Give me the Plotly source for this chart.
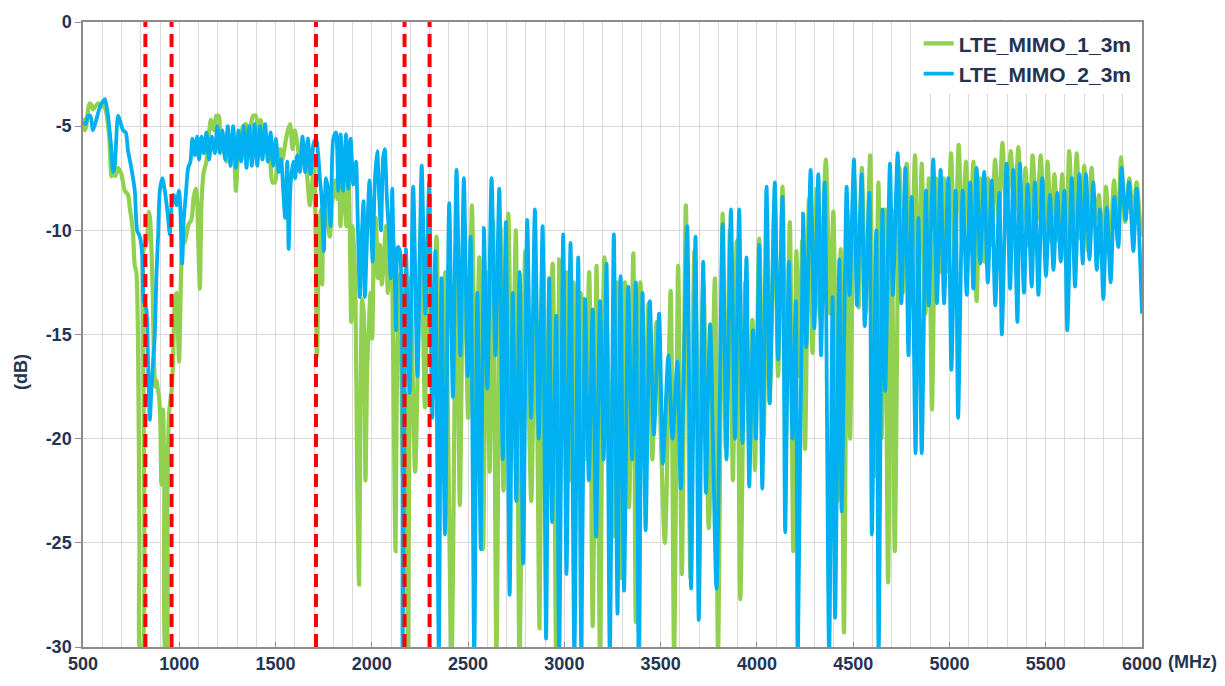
import plotly.graph_objects as go

# ---------------- data ----------------
mimo1_freq = [
    500, 510, 517, 528, 535, 545, 552, 560, 569, 580, 590, 604, 620, 636, 648, 656, 668, 682, 699, 717,
    734, 744, 751, 760, 769, 777, 786, 793, 798, 806, 812, 815, 829, 843, 849, 855, 862, 868, 875, 881,
    888, 895, 901, 907, 912, 916, 922, 928, 933, 938, 947, 956, 962, 968, 972, 977, 985, 992, 999, 1005,
    1011, 1020, 1028, 1037, 1049, 1063, 1075, 1086, 1093, 1098, 1107, 1115, 1127, 1141, 1155, 1164, 1172, 1180, 1186, 1193,
    1205, 1212, 1219, 1231, 1245, 1252, 1259, 1270, 1283, 1294, 1306, 1318, 1332, 1346, 1358, 1370, 1384, 1398, 1410, 1422,
    1436, 1448, 1462, 1474, 1484, 1497, 1509, 1523, 1536, 1549, 1561, 1575, 1588, 1600, 1614, 1626, 1640, 1652, 1665, 1678,
    1690, 1700, 1708, 1716, 1725, 1734, 1742, 1752, 1760, 1770, 1782, 1793, 1805, 1811, 1822, 1830, 1837, 1848, 1858, 1868,
    1880, 1893, 1903, 1915, 1924, 1934, 1941, 1950, 1958, 1967, 1976, 1985, 1993, 2002, 2010, 2021, 2031, 2042, 2052, 2062,
    2073, 2083, 2093, 2102, 2111, 2123, 2131, 2142, 2152, 2163, 2175, 2188, 2201, 2225, 2255, 2276, 2292, 2319, 2336, 2358,
    2382, 2414, 2440, 2457, 2478, 2500, 2520, 2540, 2558, 2578, 2595, 2612, 2630, 2647, 2668, 2684, 2709, 2728, 2748, 2767,
    2797, 2828, 2850, 2871, 2890, 2910, 2939, 2957, 2973, 2995, 3010, 3026, 3048, 3065, 3085, 3103, 3129, 3147, 3167, 3185,
    3208, 3255, 3275, 3293, 3315, 3336, 3358, 3371, 3395, 3415, 3437, 3457, 3479, 3522, 3552, 3570, 3591, 3610, 3631, 3655,
    3675, 3700, 3722, 3750, 3782, 3798, 3822, 3838, 3860, 3875, 3895, 3914, 3940, 3960, 3977, 3990, 4012, 4035, 4052, 4066,
    4092, 4110, 4133, 4150, 4171, 4189, 4205, 4222, 4235, 4250, 4270, 4289, 4310, 4327, 4358, 4380, 4397, 4419, 4435, 4452,
    4470, 4484, 4505, 4528, 4545, 4565, 4588, 4609, 4631, 4647, 4665, 4681, 4700, 4716, 4740, 4758, 4778, 4800, 4821, 4838,
    4856, 4875, 4893, 4909, 4930, 4950, 4970, 4988, 5008, 5028, 5048, 5066, 5086, 5105, 5124, 5141, 5160, 5180, 5200, 5218,
    5237, 5256, 5275, 5296, 5318, 5338, 5358, 5376, 5395, 5414, 5432, 5453, 5474, 5492, 5510, 5528, 5545, 5566, 5586, 5604,
    5622, 5642, 5661, 5680, 5700, 5720, 5738, 5757, 5776, 5795, 5813, 5834, 5855, 5874, 5891, 5912, 5934, 5953, 5972, 5990,
    6000,
]
mimo1_db = [
    -4.6, -5.2, -5.0, -4.1, -3.9, -4.0, -4.2, -4.1, -4.0, -3.9, -4.1, -3.9, -4.3, -5.5, -7.4, -7.2, -7.4, -7.0, -7.3, -8.1,
    -8.3, -9.0, -9.4, -10.2, -11.7, -12.0, -15.5, -25.0, -30.5, -30.5, -14.0, -10.9, -10.6, -9.1, -9.5, -10.8, -13.0, -16.1, -17.5, -17.2,
    -17.6, -18.0, -19.0, -22.2, -19.5, -18.6, -22.0, -30.5, -30.5, -22.7, -18.8, -18.0, -17.5, -16.1, -14.5, -13.4, -13.0, -14.5, -16.3, -14.0,
    -11.6, -10.3, -10.6, -10.2, -9.7, -9.5, -8.4, -8.0, -8.6, -10.3, -12.8, -8.8, -7.2, -6.7, -5.3, -4.7, -5.0, -5.2, -4.8, -4.5,
    -4.5, -5.2, -5.5, -6.1, -6.7, -6.3, -6.1, -5.7, -6.1, -8.1, -6.3, -5.6, -5.0, -4.9, -5.6, -5.0, -4.5, -4.5, -5.9, -4.7,
    -5.3, -5.6, -6.1, -6.9, -7.7, -7.7, -6.7, -6.1, -6.6, -5.9, -5.3, -4.9, -6.1, -5.2, -5.9, -6.6, -6.1, -5.9, -7.5, -8.8,
    -7.8, -6.5, -10.0, -16.0, -10.3, -9.0, -12.6, -8.5, -8.3, -9.5, -10.3, -8.8, -8.0, -7.6, -8.5, -7.5, -9.8, -7.8, -8.5, -9.8,
    -7.6, -14.4, -9.8, -13.0, -22.0, -27.0, -18.7, -13.3, -14.0, -22.0, -16.6, -14.5, -13.0, -15.2, -11.2, -9.4, -12.3, -10.7, -12.6, -11.5,
    -9.8, -13.0, -9.4, -10.5, -16.0, -25.4, -16.2, -12.1, -15.9, -22.0, -17.8, -30.5, -12.3, -21.6, -9.8, -18.5, -11.5, -18.0, -10.3, -21.0,
    -12.0, -30.5, -10.0, -23.2, -9.5, -19.0, -8.8, -20.0, -11.3, -25.3, -12.0, -21.6, -9.5, -30.5, -9.8, -22.5, -9.2, -20.0, -10.0, -30.5,
    -11.0, -23.0, -11.5, -29.1, -11.5, -20.0, -11.6, -30.5, -11.4, -20.0, -12.0, -22.0, -12.5, -20.0, -13.0, -21.0, -12.0, -29.0, -11.7, -30.5,
    -11.3, -24.7, -12.5, -26.7, -12.5, -23.3, -11.1, -28.8, -12.5, -20.0, -13.5, -21.0, -14.4, -25.0, -12.9, -30.5, -11.7, -26.5, -8.8, -26.7,
    -11.0, -20.0, -12.5, -24.3, -12.3, -30.5, -9.2, -20.5, -10.0, -22.0, -10.5, -27.7, -12.5, -20.0, -14.3, -21.5, -10.4, -20.0, -9.0, -18.3,
    -8.5, -17.0, -7.9, -20.0, -9.6, -25.4, -11.0, -17.0, -10.5, -20.5, -8.5, -15.9, -8.0, -14.2, -6.6, -14.0, -9.1, -23.0, -10.9, -29.3,
    -9.0, -20.0, -7.5, -13.7, -7.0, -14.0, -6.4, -21.8, -7.7, -20.0, -9.0, -26.9, -9.0, -25.4, -7.0, -13.0, -6.8, -13.0, -6.4, -13.5,
    -6.8, -14.0, -7.5, -18.6, -7.5, -12.0, -7.5, -12.0, -6.3, -11.5, -5.9, -10.5, -6.7, -11.0, -6.7, -13.4, -7.5, -11.5, -7.5, -10.7,
    -6.6, -9.5, -5.8, -9.3, -6.2, -9.1, -6.0, -10.0, -7.0, -10.8, -6.4, -9.5, -6.4, -10.0, -6.7, -10.5, -7.3, -10.5, -7.3, -11.5,
    -6.2, -10.0, -6.3, -10.4, -6.9, -11.0, -7.0, -9.6, -8.3, -11.5, -7.9, -11.0, -7.6, -10.5, -6.5, -9.6, -7.5, -9.5, -7.7, -9.6,
    -10.3,
]

mimo2_freq = [
    500, 514, 526, 538, 552, 569, 587, 604, 614, 630, 647, 656, 665, 682, 694, 708, 722, 734, 751, 769,
    781, 795, 808, 815, 829, 838, 847, 855, 864, 873, 882, 890, 899, 912, 925, 942, 951, 959, 968, 977,
    985, 999, 1006, 1015, 1023, 1034, 1046, 1058, 1068, 1081, 1093, 1103, 1115, 1127, 1141, 1155, 1169, 1185, 1197, 1211,
    1224, 1238, 1252, 1266, 1280, 1294, 1308, 1321, 1335, 1349, 1363, 1377, 1391, 1405, 1419, 1432, 1446, 1460, 1474, 1488,
    1502, 1516, 1529, 1540, 1550, 1561, 1568, 1578, 1592, 1602, 1612, 1626, 1640, 1654, 1668, 1682, 1696, 1710, 1722, 1730,
    1740, 1751, 1762, 1775, 1786, 1800, 1814, 1826, 1838, 1852, 1866, 1878, 1890, 1904, 1918, 1925, 1938, 1947, 1957, 1964,
    1977, 1988, 1997, 2004, 2016, 2028, 2037, 2048, 2058, 2067, 2078, 2090, 2098, 2106, 2111, 2118, 2126, 2135, 2146, 2160,
    2177, 2196, 2215, 2237, 2259, 2278, 2298, 2314, 2330, 2348, 2362, 2380, 2402, 2421, 2440, 2460, 2478, 2498, 2513, 2532,
    2548, 2566, 2582, 2600, 2622, 2642, 2662, 2680, 2696, 2716, 2732, 2750, 2768, 2786, 2807, 2827, 2847, 2867, 2887, 2905,
    2921, 2936, 2958, 2973, 2994, 3011, 3032, 3052, 3072, 3088, 3107, 3127, 3147, 3165, 3185, 3204, 3219, 3236, 3257, 3276,
    3292, 3310, 3332, 3352, 3371, 3386, 3406, 3422, 3444, 3465, 3492, 3512, 3540, 3562, 3587, 3605, 3638, 3658, 3681, 3698,
    3721, 3735, 3757, 3790, 3822, 3842, 3865, 3886, 3908, 3925, 3946, 3960, 3980, 3995, 4012, 4028, 4050, 4066, 4093, 4110,
    4133, 4147, 4166, 4185, 4202, 4213, 4240, 4256, 4279, 4298, 4319, 4333, 4352, 4375, 4393, 4406, 4428, 4440, 4466, 4481,
    4504, 4520, 4544, 4560, 4584, 4597, 4620, 4632, 4652, 4666, 4691, 4706, 4731, 4750, 4771, 4787, 4804, 4824, 4839, 4856,
    4878, 4892, 4916, 4935, 4954, 4972, 4994, 5010, 5032, 5045, 5069, 5090, 5107, 5124, 5141, 5160, 5180, 5199, 5219, 5238,
    5259, 5272, 5297, 5315, 5332, 5353, 5366, 5387, 5406, 5427, 5444, 5462, 5482, 5501, 5522, 5540, 5560, 5578, 5597, 5612,
    5635, 5652, 5675, 5692, 5709, 5727, 5747, 5765, 5782, 5799, 5817, 5837, 5856, 5877, 5894, 5915, 5933, 5955, 5972, 6000,
]
mimo2_db = [
    -4.8, -4.9, -4.5, -4.5, -5.2, -4.7, -4.1, -3.8, -3.7, -4.5, -6.1, -7.2, -6.9, -4.5, -4.8, -5.2, -5.3, -6.2, -7.0, -8.1,
    -10.0, -10.3, -11.2, -13.4, -13.8, -16.4, -19.1, -17.7, -16.3, -15.0, -12.0, -10.3, -8.1, -7.5, -8.1, -9.4, -10.2, -8.9, -8.3, -8.4,
    -8.8, -8.1, -9.1, -11.6, -9.5, -8.3, -7.0, -6.7, -5.6, -6.4, -5.5, -6.6, -5.5, -6.3, -5.3, -6.6, -5.5, -6.3, -5.0, -6.3,
    -5.2, -6.6, -5.0, -6.9, -5.0, -7.0, -5.2, -6.7, -5.0, -7.0, -5.0, -6.9, -4.9, -6.9, -5.0, -6.6, -4.9, -6.7, -5.3, -6.9,
    -5.6, -7.2, -6.6, -8.1, -9.4, -6.7, -10.9, -7.8, -6.7, -7.5, -6.4, -7.2, -5.5, -7.2, -5.6, -7.3, -5.9, -5.6, -6.4, -7.5,
    -8.5, -11.0, -7.5, -8.2, -9.8, -5.6, -5.3, -8.1, -5.4, -8.1, -5.4, -8.0, -5.6, -7.8, -6.7, -8.8, -13.2, -10.5, -8.6, -13.2,
    -9.8, -7.6, -9.8, -11.5, -7.6, -6.2, -8.1, -10.0, -6.6, -6.1, -8.4, -10.3, -12.3, -8.0, -10.1, -11.7, -14.8, -10.8, -11.0, -30.5,
    -10.9, -17.8, -7.9, -17.0, -6.9, -14.0, -7.7, -19.0, -11.0, -30.5, -12.3, -24.6, -8.7, -18.0, -7.1, -16.0, -7.5, -17.0, -10.3, -30.5,
    -13.0, -25.3, -9.9, -17.6, -7.5, -16.0, -8.0, -21.0, -9.6, -27.5, -13.0, -23.0, -12.0, -26.0, -9.5, -19.0, -9.0, -20.0, -9.8, -29.6,
    -12.3, -24.0, -14.1, -30.5, -10.2, -26.5, -10.6, -30.5, -11.3, -30.5, -13.3, -22.0, -13.8, -24.7, -13.4, -21.0, -11.6, -30.5, -10.2, -28.4,
    -12.2, -27.3, -12.7, -21.0, -12.5, -30.5, -13.0, -24.4, -13.4, -19.8, -14.0, -21.2, -16.0, -20.0, -16.3, -22.4, -9.8, -27.2, -10.3, -28.7,
    -11.5, -22.6, -14.5, -27.2, -9.7, -21.0, -9.0, -20.0, -9.0, -20.2, -11.3, -22.3, -14.8, -20.0, -10.7, -22.4, -7.9, -18.3, -7.7, -16.2,
    -8.4, -24.5, -11.5, -20.0, -13.4, -30.5, -9.2, -15.6, -7.1, -14.7, -7.3, -16.0, -7.7, -30.5, -13.2, -28.6, -11.4, -23.5, -7.9, -13.1,
    -6.6, -13.6, -7.3, -14.6, -8.2, -24.6, -10.0, -30.5, -9.0, -17.7, -6.8, -13.1, -6.3, -13.5, -7.0, -16.0, -8.4, -20.7, -9.4, -20.7,
    -8.1, -13.6, -6.6, -13.5, -7.1, -13.5, -7.5, -16.7, -8.1, -19.0, -8.1, -13.1, -7.7, -12.8, -7.0, -11.6, -7.2, -12.5, -7.6, -13.6,
    -8.2, -15.0, -6.8, -12.8, -7.1, -14.4, -6.8, -13.0, -7.8, -12.7, -7.7, -13.1, -7.5, -12.2, -8.3, -11.9, -8.2, -11.5, -8.1, -14.8,
    -7.5, -12.7, -7.3, -11.6, -7.3, -11.4, -7.7, -11.9, -9.0, -13.3, -8.9, -12.5, -8.4, -10.8, -7.0, -9.5, -7.7, -11.0, -8.0, -14.0,
]

series_names = ["LTE_MIMO_1_3m", "LTE_MIMO_2_3m"]
series_colors = ["#92D050", "#00B0F0"]
band_edges_mhz = [824, 960, 1710, 2170, 2300]
marker_mhz = [2700]
x_ticks = [500, 1000, 1500, 2000, 2500, 3000, 3500, 4000, 4500, 5000, 5500, 6000]
y_ticks = [0, -5, -10, -15, -20, -25, -30]

# ---------------- figure ----------------
TXT = "#243352"
FONT = "Liberation Sans, Arial, sans-serif"

fig = go.Figure()
for fx, fy, name, col, w in [
    (mimo1_freq, mimo1_db, series_names[0], series_colors[0], 4.2),
    (mimo2_freq, mimo2_db, series_names[1], series_colors[1], 3.8),
]:
    fig.add_trace(go.Scatter(
        x=fx, y=fy, name=name, mode="lines",
        line=dict(color=col, width=w, shape="spline", smoothing=0.7),
    ))

for f in band_edges_mhz:
    fig.add_shape(type="line", x0=f, x1=f, xref="x", yref="paper", y0=0, y1=1,
                  line=dict(color="#FF0000", width=4, dash="13px,7px"), layer="above")
for f in marker_mhz:
    fig.add_shape(type="line", x0=f, x1=f, xref="x", yref="paper", y0=0, y1=1,
                  line=dict(color="#FFD48A", width=1.2), layer="below")

fig.update_layout(
    width=1225, height=686,
    margin=dict(l=83, r=83, t=13, b=33),
    paper_bgcolor="white", plot_bgcolor="white",
    font=dict(family=FONT, color=TXT),
    showlegend=True,
    legend=dict(x=0.995, xanchor="right", y=0.998, yanchor="top",
                bgcolor="white", borderwidth=0,
                font=dict(family=FONT, size=21, color=TXT, weight="bold"),
                itemwidth=30, tracegroupgap=0),
    annotations=[
        dict(text="(MHz)", xref="paper", yref="paper", x=1, y=0, xanchor="left", yanchor="top",
             xshift=24, yshift=-3, showarrow=False,
             font=dict(family=FONT, size=18, color=TXT, weight="bold")),
        dict(text="(dB)", xref="paper", yref="paper", x=0, y=0.44, xanchor="center", yanchor="middle",
             xshift=-62, textangle=-90, showarrow=False,
             font=dict(family=FONT, size=18, color=TXT, weight="bold")),
    ],
)
fig.update_xaxes(
    range=[500, 6000], tickvals=x_ticks, ticktext=[str(v) for v in x_ticks],
    showgrid=True, gridcolor="#D9D9D9", gridwidth=1,
    minor=dict(dtick=100, tick0=500, showgrid=True, gridcolor="#D9D9D9", gridwidth=1),
    showline=True, mirror=True, linecolor="#8C8C8C", linewidth=1.5,
    ticks="inside", ticklen=5, tickcolor="#8C8C8C",
    tickfont=dict(family=FONT, size=18, color=TXT, weight="bold"),
    zeroline=False,
)
fig.update_yaxes(
    range=[-30, 0], tickvals=y_ticks, ticktext=[str(v) for v in y_ticks],
    showgrid=True, gridcolor="#D9D9D9", gridwidth=1,
    showline=True, mirror=True, linecolor="#8C8C8C", linewidth=1.5,
    ticks="outside", ticklen=6, tickcolor="#8C8C8C",
    tickfont=dict(family=FONT, size=18, color=TXT, weight="bold"),
    zeroline=False,
)

fig.write_html("out.html")
